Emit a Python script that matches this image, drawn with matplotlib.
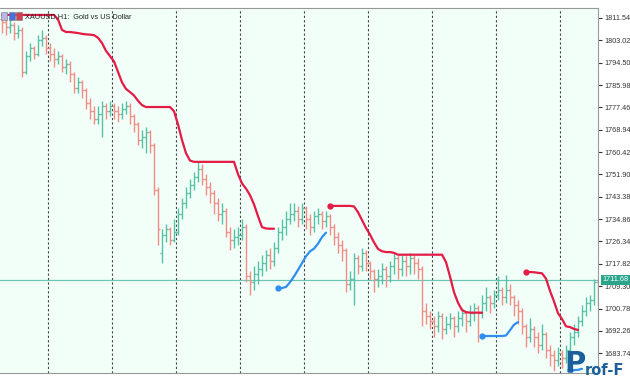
import numpy as np
import matplotlib
matplotlib.use("Agg")
import matplotlib.pyplot as plt
from matplotlib.patches import Rectangle

plt.rcParams['font.family'] = ['Liberation Sans', 'DejaVu Sans']

# XAUUSD H1 bars (open, high, low, close)
opens = [1811, 1810, 1808, 1809, 1806, 1807, 1791, 1797, 1800, 1798,
         1803, 1804, 1800, 1798, 1796, 1797, 1793, 1794, 1790, 1785,
         1787, 1784, 1779, 1776, 1773, 1775, 1778, 1776, 1778, 1776,
         1775, 1777, 1778, 1774, 1771, 1765, 1766, 1768, 1763, 1746,
         1722, 1729, 1731, 1727, 1730, 1737, 1741, 1745, 1748, 1751,
         1754, 1750, 1747, 1745, 1741, 1737, 1738, 1730, 1727, 1728,
         1729, 1732, 1713, 1711, 1714, 1716, 1718, 1721, 1719, 1724,
         1730, 1732, 1735, 1737, 1738, 1735, 1739, 1735, 1732, 1736,
         1737, 1734, 1736, 1732, 1728, 1725, 1723, 1710, 1712, 1720,
         1717, 1722, 1718, 1715, 1712, 1713, 1716, 1713, 1717, 1720,
         1716, 1719, 1717, 1720, 1718, 1716, 1700, 1698, 1696, 1694,
         1698, 1693, 1695, 1697, 1694, 1697, 1699, 1696, 1699, 1701,
         1699, 1703, 1705, 1703, 1706, 1708, 1705, 1708, 1705, 1702,
         1700, 1694, 1690, 1693, 1690, 1687, 1691, 1685, 1683, 1681,
         1684, 1682, 1685, 1690, 1692, 1696, 1700, 1703, 1704, 1711]
highs = [1813, 1811, 1811, 1810, 1809, 1808, 1799, 1802, 1801, 1805,
         1807, 1805, 1802, 1800, 1799, 1798, 1796, 1795, 1791, 1789,
         1788, 1785, 1781, 1778, 1778, 1780, 1779, 1780, 1779, 1778,
         1779, 1780, 1779, 1775, 1772, 1769, 1770, 1769, 1764, 1747,
         1731, 1733, 1732, 1735, 1739, 1743, 1747, 1750, 1753, 1757,
         1756, 1752, 1749, 1746, 1743, 1741, 1739, 1732, 1731, 1732,
         1735, 1733, 1715, 1717, 1719, 1721, 1723, 1724, 1726, 1732,
         1735, 1738, 1741, 1741, 1740, 1741, 1740, 1737, 1738, 1739,
         1738, 1738, 1737, 1733, 1730, 1727, 1724, 1715, 1722, 1721,
         1724, 1723, 1719, 1716, 1716, 1718, 1717, 1719, 1722, 1721,
         1721, 1721, 1722, 1721, 1720, 1717, 1703, 1700, 1698, 1700,
         1699, 1698, 1699, 1698, 1700, 1701, 1700, 1702, 1703, 1702,
         1706, 1709, 1706, 1708, 1713, 1709, 1713.5, 1710, 1706, 1704,
         1701, 1695, 1697, 1694, 1692, 1695, 1692, 1687, 1685, 1686,
         1685, 1687, 1692, 1695, 1698, 1702, 1705, 1706, 1712, 1712]
lows = [1806, 1805, 1806, 1803, 1804, 1789, 1790, 1795, 1796, 1797,
        1801, 1798, 1795, 1793, 1794, 1791, 1790, 1787, 1783, 1783,
        1781, 1777, 1773, 1771, 1771, 1766, 1773, 1774, 1773, 1772,
        1773, 1775, 1771, 1768, 1763, 1762, 1760, 1760, 1744, 1725,
        1718, 1726, 1725, 1726, 1729, 1735, 1739, 1743, 1746, 1749,
        1748, 1744, 1741, 1737, 1734, 1733, 1728, 1723, 1724, 1725,
        1727, 1711, 1706, 1708, 1710, 1713, 1715, 1716, 1717, 1722,
        1727, 1729, 1733, 1734, 1732, 1733, 1731, 1729, 1730, 1733,
        1731, 1732, 1729, 1725, 1722, 1719, 1707, 1708, 1702, 1714,
        1715, 1715, 1712, 1707, 1709, 1710, 1709, 1711, 1714, 1712,
        1713, 1713, 1714, 1714, 1712, 1694, 1695, 1693, 1690, 1692,
        1689, 1691, 1693, 1690, 1692, 1694, 1692, 1694, 1696, 1688,
        1697, 1700, 1699, 1701, 1704, 1702, 1703, 1702, 1698, 1695,
        1691, 1686, 1688, 1686, 1684, 1685, 1682, 1679, 1677, 1679,
        1678, 1680, 1683, 1687, 1690, 1694, 1698, 1700, 1702, 1702]
closes = [1810, 1808, 1809, 1806, 1807, 1791, 1797, 1800, 1798, 1803,
          1804, 1800, 1798, 1796, 1797, 1793, 1794, 1790, 1785, 1787,
          1784, 1779, 1776, 1773, 1775, 1778, 1776, 1778, 1776, 1775,
          1777, 1778, 1774, 1771, 1765, 1766, 1768, 1763, 1746, 1731,
          1729, 1731, 1727, 1730, 1737, 1741, 1745, 1748, 1751, 1754,
          1750, 1747, 1745, 1741, 1737, 1738, 1730, 1727, 1728, 1729,
          1732, 1713, 1711, 1714, 1716, 1718, 1721, 1719, 1724, 1730,
          1732, 1735, 1737, 1738, 1735, 1739, 1735, 1732, 1736, 1737,
          1734, 1736, 1732, 1728, 1725, 1723, 1710, 1712, 1720, 1717,
          1722, 1718, 1715, 1712, 1713, 1716, 1713, 1717, 1720, 1716,
          1719, 1717, 1720, 1718, 1716, 1700, 1698, 1696, 1694, 1698,
          1693, 1695, 1697, 1694, 1697, 1699, 1696, 1699, 1701, 1699,
          1703, 1705, 1703, 1706, 1708, 1705, 1708, 1705, 1702, 1700,
          1694, 1690, 1693, 1690, 1687, 1691, 1685, 1683, 1681, 1684,
          1682, 1685, 1690, 1692, 1696, 1700, 1703, 1704, 1711, 1704]

# indicator segments: (first bar index, values)
red_segments = [
    (0, [1812.7] * 14 + [1811, 1807, 1806.2, 1806.2, 1806.0, 1805.8, 1805.5,
                         1805.3, 1805.2, 1805.0, 1804.0, 1802, 1799, 1797, 1795,
                         1791, 1787, 1784.5, 1783.3, 1782, 1780, 1778.3]
        + [1777.6] * 7 + [1776, 1771, 1765, 1760, 1757.2] + [1756.7] * 11
        + [1752, 1748.5, 1746.5, 1744, 1740.5, 1736, 1731.8, 1731.3, 1731.2,
           1731.2]),
    (82, [1739.9] * 6 + [1739.7, 1737.5, 1734.5, 1731.5, 1729, 1726, 1723.5,
                         1722.6, 1722.3, 1722.3, 1722.0] + [1721.3] * 12
        + [1718.5, 1713, 1707, 1703, 1700.2, 1699.4, 1699.2, 1699.2, 1699.2,
           1699.2]),
    (131, [1714.7, 1714.7, 1714.6, 1714.4, 1714.2, 1712.2, 1707.5, 1703.5,
           1699, 1696.8, 1694.0, 1693.7, 1693.0, 1692.6]),
]
blue_segments = [
    (69, [1708.6, 1708.6, 1709.0, 1710.8, 1713.0, 1715.5, 1718.1, 1720.7,
          1722.6, 1723.6, 1725.5, 1728, 1729.7]),
    (120, [1690.3, 1690.3, 1690.3, 1690.3, 1690.3, 1690.3, 1690.5, 1692.5,
           1694.6, 1695.6]),
    (142, [1677.3, 1677.3, 1677.4, 1677.8]),
]

price_ticks = [1811.54, 1803.02, 1794.50, 1785.98, 1777.46, 1768.94, 1760.42,
               1751.90, 1743.38, 1734.86, 1726.34, 1717.82, 1709.30, 1700.78,
               1692.26, 1683.74]
last_price = 1711.68

bull = '#55c2a6'
bear = '#f28c86'
ymin, ymax = 1676.2, 1815.35

fig = plt.figure(figsize=(6.3, 3.8), dpi=100)
fig.patch.set_facecolor('white')
ax = fig.add_axes([0, 7 / 380, 598 / 630, 365 / 380])
ax.set_facecolor('#f2fff9')

o = np.array(opens, float)
h = np.array(highs, float)
l = np.array(lows, float)
c = np.array(closes, float)
idx = np.arange(len(c))
cols = np.where(c >= o, bull, bear)

ax.vlines(idx, l, h, colors=cols, lw=1.0)
ax.hlines(o, idx - 0.45, idx, colors=cols, lw=1.0)
ax.hlines(c, idx, idx + 0.45, colors=cols, lw=1.0)

for start, vals in red_segments:
    xs = np.arange(start, start + len(vals))
    ax.plot(xs, vals, color='#e31b45', lw=1.6, solid_capstyle='round')
for start, vals in blue_segments:
    xs = np.arange(start, start + len(vals))
    ax.plot(xs, vals, color='#2f8ff0', lw=1.6, solid_capstyle='round')

# start dots of the later segments
for start, vals in red_segments[1:]:
    ax.plot(start, vals[0], 'o', color='#e31b45', ms=3.5)
for start, vals in blue_segments:
    ax.plot(start, vals[0], 'o', color='#2f8ff0', ms=3.5)

# vertical separators
for xv in np.arange(11.5, 150, 16):
    ax.axvline(xv, color='#444444', lw=0.8, ls=(0, (2, 2)), zorder=0.5)

ax.axhline(last_price, color='#6cc4b4', lw=0.9, zorder=0.6)

ax.set_xlim(-0.5, 149)
ax.set_ylim(ymin, ymax)
ax.yaxis.tick_right()
ax.set_yticks(price_ticks)
ax.set_yticklabels(['%.2f' % v for v in price_ticks])
ax.tick_params(axis='y', length=3, width=0.8, pad=1.5, labelsize=5.2,
               colors='#333333', direction='out')
ax.set_xticks([])
ax.spines['left'].set_visible(False)
for side in ['top', 'bottom', 'right']:
    ax.spines[side].set_color('#999999')
    ax.spines[side].set_linewidth(0.8)

# current price box
ax.text(1.008, (last_price - ymin) / (ymax - ymin), '%.2f' % last_price,
        transform=ax.transAxes, ha='left', va='center', fontsize=5.2,
        color='white', clip_on=False, zorder=5,
        bbox=dict(boxstyle='square,pad=0.25', fc='#2aa58c', ec='none'))

# header
ax.text(25 / 598, 1 - 9 / 365, 'XAUUSD,H1:  Gold vs US Dollar',
        transform=ax.transAxes, ha='left', va='center', fontsize=5.3,
        color='#222222')
for xp, col in [(1, '#b8b8e8'), (9, '#4a6ee0'), (16, '#d04050')]:
    fig.patches.append(Rectangle((xp / 630, 1 - 20 / 380), 6 / 630, 8 / 380,
                                 transform=fig.transFigure, fc=col,
                                 ec='#777777', lw=0.4))

# watermark
fig.text(564 / 630, 2 / 380, 'P', fontsize=21, fontweight='bold',
         color='#1c5f9a', ha='left', va='bottom', family='DejaVu Sans')
fig.text(585 / 630, 2 / 380, 'rof-F', fontsize=10.5, fontweight='bold',
         color='#1c5f9a', ha='left', va='bottom', family='DejaVu Sans')

fig.savefig('out.png', dpi=100, facecolor=fig.get_facecolor())
